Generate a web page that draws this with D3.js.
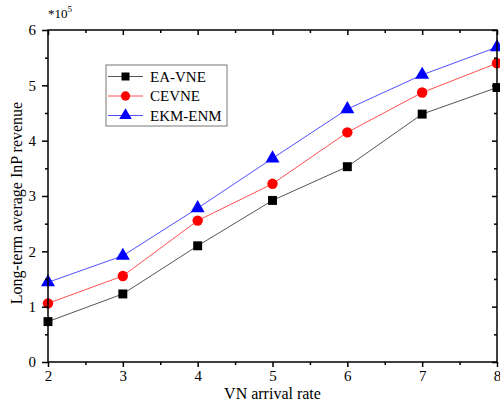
<!DOCTYPE html>
<html><head><meta charset="utf-8">
<script src="https://cdn.jsdelivr.net/npm/d3@7"></script>
<style>body{margin:0;background:#fff}svg{display:block}svg text{font-family:"Liberation Serif","Times New Roman",serif !important}</style>
</head><body><svg id="c" width="500" height="402"></svg>
<script>
const xValues = [2, 3, 4, 5, 6, 7, 8];
const seriesNames = ["EA-VNE", "CEVNE", "EKM-ENM"];
const eaVne = [0.73, 1.23, 2.10, 2.92, 3.53, 4.48, 4.96];
const cevne = [1.06, 1.555, 2.555, 3.22, 4.15, 4.87, 5.40];
const ekmEnm = [1.44, 1.92, 2.78, 3.68, 4.57, 5.19, 5.69];
const xTicks = [2, 3, 4, 5, 6, 7, 8];
const yTicks = [0, 1, 2, 3, 4, 5, 6];

const colors = ["#000000", "#ff0000", "#0000ff"];
const lineColors = ["#555555", "#ff5050", "#5050ff"];
const shapes = [d3.symbolSquare, d3.symbolCircle, d3.symbolTriangle];
const sizes = [80, 85, 85];

const svg = d3.select("#c");
const L = 48, R = 497, T = 30, B = 362;
const x = d3.scaleLinear().domain([2, 8]).range([L, R]);
const y = d3.scaleLinear().domain([0, 6]).range([B, T]);

const data = [eaVne, cevne, ekmEnm];

const line = d3.line().x((d, i) => x(xValues[i])).y(d => y(d));
data.forEach((s, k) => {
  svg.append("path").attr("d", line(s)).attr("fill", "none")
    .attr("stroke", lineColors[k]).attr("stroke-width", 1);
});
data.forEach((s, k) => {
  svg.selectAll(null).data(s).enter().append("path")
    .attr("d", d3.symbol().type(shapes[k]).size(sizes[k]))
    .attr("transform", (d, i) => `translate(${x(xValues[i])},${y(d)})`)
    .attr("fill", colors[k]);
});

const minorX = d3.range(2.5, 8, 1);
const minorY = d3.range(0.5, 6, 1);
svg.append("rect").attr("x", L).attr("y", T).attr("width", R - L).attr("height", B - T)
  .attr("fill", "none").attr("stroke", "#000").attr("stroke-width", 1.5);
const gB = svg.append("g").attr("transform", `translate(0,${B})`)
  .call(d3.axisBottom(x).tickValues(xTicks).tickFormat(d3.format("d")).tickSize(5).tickPadding(3));
const gBm = svg.append("g").attr("transform", `translate(0,${B})`)
  .call(d3.axisBottom(x).tickValues(minorX).tickFormat("").tickSize(3));
const gT = svg.append("g").attr("transform", `translate(0,${T})`)
  .call(d3.axisBottom(x).tickValues(xTicks).tickFormat("").tickSize(5));
const gTm = svg.append("g").attr("transform", `translate(0,${T})`)
  .call(d3.axisBottom(x).tickValues(minorX).tickFormat("").tickSize(3));
const gL = svg.append("g").attr("transform", `translate(${L},0)`)
  .call(d3.axisLeft(y).tickValues(yTicks).tickFormat(d3.format("d")).tickSize(6).tickPadding(6));
const gLm = svg.append("g").attr("transform", `translate(${L},0)`)
  .call(d3.axisLeft(y).tickValues(minorY).tickFormat("").tickSize(3));
const gR = svg.append("g").attr("transform", `translate(${R},0)`)
  .call(d3.axisLeft(y).tickValues(yTicks).tickFormat("").tickSize(5));
const gRm = svg.append("g").attr("transform", `translate(${R},0)`)
  .call(d3.axisLeft(y).tickValues(minorY).tickFormat("").tickSize(3));
[gB, gBm, gT, gTm, gL, gLm, gR, gRm].forEach(g => {
  g.attr("font-family", "Liberation Serif, serif").attr("font-size", 15);
  g.select(".domain").remove();
  g.selectAll("line").attr("stroke", "#000").attr("stroke-width", 1.5);
  g.selectAll("text").attr("fill", "#000");
});

const mt = svg.append("text").attr("x", 48).attr("y", 18).attr("font-size", 13);
mt.append("tspan").text("*10");
mt.append("tspan").attr("dy", -6).attr("font-size", 9).text("5");

svg.append("text").attr("x", (L + R) / 2).attr("y", 399).attr("text-anchor", "middle")
  .attr("font-size", 16).text("VN arrival rate");
svg.append("text").attr("transform", `translate(22,203) rotate(-90)`)
  .attr("text-anchor", "middle").attr("font-size", 16).text("Long-term average InP revenue");

const lg = svg.append("g");
lg.append("rect").attr("x", 106).attr("y", 65).attr("width", 121).attr("height", 61)
  .attr("fill", "#fff").attr("stroke", "#777").attr("stroke-width", 1);
seriesNames.forEach((n, k) => {
  const yy = 76.5 + k * 19.5;
  lg.append("line").attr("x1", 108).attr("x2", 143).attr("y1", yy).attr("y2", yy)
    .attr("stroke", lineColors[k]).attr("stroke-width", 1);
  lg.append("path").attr("d", d3.symbol().type(shapes[k]).size(sizes[k] * 0.8))
    .attr("transform", `translate(125.5,${yy})`).attr("fill", colors[k]);
  lg.append("text").attr("x", 150).attr("y", yy + 5).attr("font-size", 15).text(n);
});
</script></body></html>
